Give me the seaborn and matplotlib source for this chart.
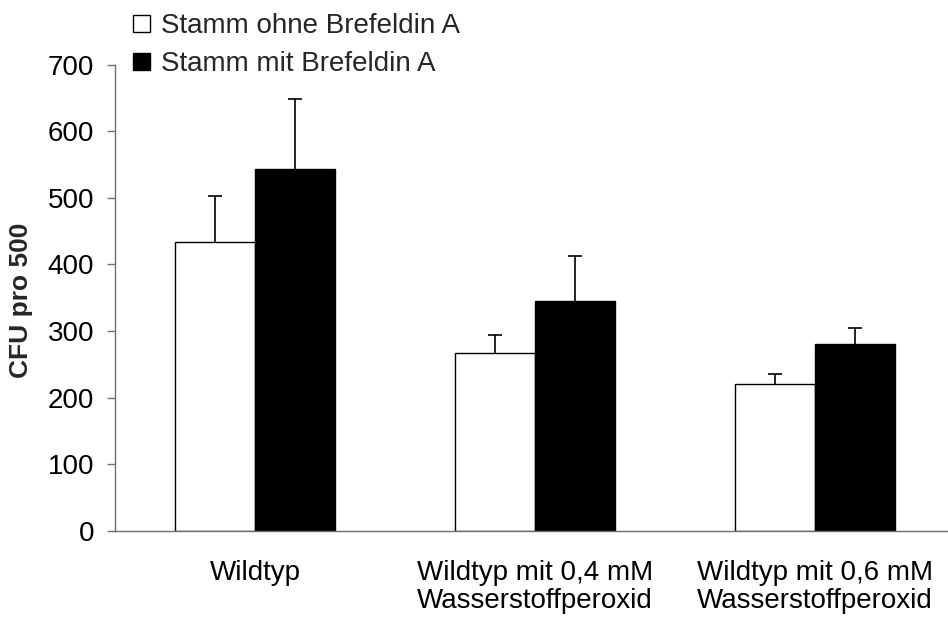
import matplotlib
matplotlib.use("Agg")
import matplotlib.pyplot as plt
import seaborn as sns
import pandas as pd
from matplotlib.patches import Patch

categories = ["Wildtyp", "Wildtyp mit 0,4 mM\nWasserstoffperoxid", "Wildtyp mit 0,6 mM\nWasserstoffperoxid"]
series_names = ["Stamm ohne Brefeldin A", "Stamm mit Brefeldin A"]
ohne_values = [433, 267, 220]
mit_values = [544, 345, 280]
ohne_err = [70, 27, 16]
mit_err = [105, 68, 24]
yticks = [0, 100, 200, 300, 400, 500, 600, 700]

sns.set_theme(style="white")
plt.rcParams['font.family'] = ['Liberation Sans', 'DejaVu Sans']

df = pd.DataFrame({
    "Kategorie": categories * 2,
    "Stamm": [series_names[0]] * 3 + [series_names[1]] * 3,
    "CFU": ohne_values + mit_values,
})

W, H = 948, 621
fig = plt.figure(figsize=(W / 100, H / 100), dpi=100)
ax = fig.add_axes([115 / W, 1 - 530.7 / H, 833 / W, 466 / H])

sns.barplot(data=df, x="Kategorie", y="CFU", hue="Stamm", order=categories,
            hue_order=series_names, palette=["white", "black"], width=0.5714,
            edgecolor="black", linewidth=1.0, errorbar=None, legend=False,
            saturation=1, ax=ax)

for cont, errs in zip(list(ax.containers), [ohne_err, mit_err]):
    xs = [b.get_x() + b.get_width() / 2 for b in cont]
    ys = [b.get_height() for b in cont]
    eb = ax.errorbar(xs, ys, yerr=[[0] * len(errs), errs], fmt="none", ecolor="black",
                     elinewidth=1.2, capsize=5, capthick=1.2, zorder=0.5)
    if len(eb[1]) >= 2:
        eb[1][0].set_visible(False)

ax.set_xlim(-0.5, 2.475)
ax.set_ylim(0, 700)
ax.set_yticks(yticks)
ax.set_xlabel("")
ax.set_ylabel("")
for s in ["top", "right"]:
    ax.spines[s].set_visible(False)
for s in ["left", "bottom"]:
    ax.spines[s].set_color("#707070")
    ax.spines[s].set_linewidth(1.0)
ax.tick_params(axis="y", which="both", left=True, length=6, width=1.0,
               color="#707070", labelsize=20, pad=9, labelcolor="black")
ax.tick_params(axis="x", length=0, labelsize=20, pad=21, labelcolor="black")
for lab in ax.get_xticklabels():
    lab.set_linespacing(1.1)

fig.text(21 / W, 1 - 300 / H, "CFU pro 500", rotation=90, ha="center", va="center",
         fontsize=19, fontweight="bold")

handles = [Patch(facecolor="white", edgecolor="black", linewidth=1.0),
           Patch(facecolor="black", edgecolor="black", linewidth=1.0)]
fig.legend(handles, series_names, loc="upper left", bbox_to_anchor=(133 / W, 1 - 13 / H),
           frameon=False, fontsize=20, handlelength=0.62, handleheight=0.58,
           handletextpad=0.4, labelspacing=0.43, borderpad=0, borderaxespad=0)

fig.savefig("out.png", dpi=100, facecolor="white")
